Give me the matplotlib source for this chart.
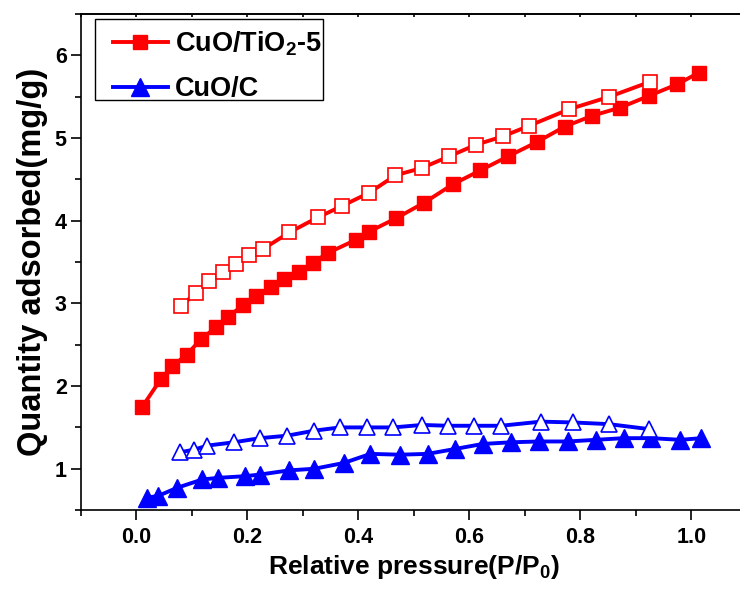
import numpy as np
import matplotlib
matplotlib.use("Agg")
import matplotlib.pyplot as plt
from matplotlib.patches import Rectangle
from matplotlib.ticker import MultipleLocator

# CuO/TiO2-5, adsorption branch (filled squares)
ti_ads_x = [0.011, 0.044, 0.065, 0.091, 0.117, 0.144, 0.165, 0.192, 0.216, 0.243,
            0.267, 0.294, 0.318, 0.345, 0.396, 0.420, 0.468, 0.519, 0.570, 0.620,
            0.670, 0.721, 0.772, 0.821, 0.872, 0.923, 0.974, 1.013]
ti_ads_y = [1.75, 2.08, 2.24, 2.38, 2.57, 2.71, 2.83, 2.98, 3.09, 3.20,
            3.29, 3.38, 3.49, 3.61, 3.77, 3.87, 4.03, 4.22, 4.44, 4.61,
            4.78, 4.95, 5.14, 5.27, 5.37, 5.51, 5.65, 5.79]

# CuO/TiO2-5, desorption branch (open squares)
ti_des_x = [0.081, 0.108, 0.131, 0.156, 0.179, 0.203, 0.229, 0.276, 0.327, 0.371,
            0.420, 0.467, 0.515, 0.564, 0.612, 0.660, 0.708, 0.780, 0.852, 0.925]
ti_des_y = [2.97, 3.13, 3.27, 3.38, 3.48, 3.58, 3.66, 3.86, 4.04, 4.18,
            4.34, 4.55, 4.64, 4.78, 4.92, 5.02, 5.15, 5.35, 5.50, 5.68]

# CuO/C, adsorption branch (filled triangles)
c_ads_x = [0.019, 0.039, 0.074, 0.119, 0.148, 0.196, 0.223, 0.275, 0.321, 0.374,
           0.422, 0.475, 0.525, 0.575, 0.624, 0.675, 0.726, 0.777, 0.828, 0.878,
           0.928, 0.980, 1.018]
c_ads_y = [0.65, 0.67, 0.77, 0.87, 0.89, 0.91, 0.93, 0.98, 1.00, 1.07,
           1.18, 1.17, 1.18, 1.24, 1.30, 1.32, 1.33, 1.33, 1.35, 1.37,
           1.37, 1.35, 1.37]

# CuO/C, desorption branch (open triangles)
c_des_x = [0.079, 0.104, 0.128, 0.176, 0.223, 0.272, 0.320, 0.367, 0.415, 0.463,
           0.515, 0.561, 0.609, 0.657, 0.729, 0.787, 0.851, 0.923]
c_des_y = [1.20, 1.23, 1.28, 1.32, 1.37, 1.40, 1.46, 1.50, 1.50, 1.50,
           1.53, 1.52, 1.52, 1.52, 1.57, 1.56, 1.54, 1.48]

plt.rcParams['font.family'] = ['Liberation Sans', 'DejaVu Sans']
plt.rcParams['font.weight'] = 'bold'
plt.rcParams['mathtext.fontset'] = 'custom'
plt.rcParams['mathtext.rm'] = 'Liberation Sans:bold'
plt.rcParams['mathtext.default'] = 'rm'

W, H = 740, 589
fig = plt.figure(figsize=(W / 100, H / 100), dpi=100)
ax = fig.add_axes([0.109, 0.134, 0.9004, 0.842])

red = '#ff0000'
blue = '#0000ff'

ax.plot(ti_ads_x, ti_ads_y, color=red, lw=2.8, marker='s', ms=10.5,
        mfc=red, mec=red, label='CuO/TiO$_2$-5', zorder=3)
ax.plot(ti_des_x, ti_des_y, color=red, lw=2.8, marker='s', ms=9.5,
        mfc='white', mec=red, mew=1.2, zorder=3)
ax.plot(c_ads_x, c_ads_y, color=blue, lw=2.8, marker='^', ms=13,
        mfc=blue, mec=blue, label='CuO/C', zorder=3)
ax.plot(c_des_x, c_des_y, color=blue, lw=2.8, marker='^', ms=12,
        mfc='white', mec=blue, mew=1.2, zorder=3)

ax.set_xlim(-0.1, 1.1)
ax.set_ylim(0.5, 6.5)
ax.xaxis.set_minor_locator(MultipleLocator(0.1))
ax.yaxis.set_minor_locator(MultipleLocator(0.5))
ax.set_xticks([0.0, 0.2, 0.4, 0.6, 0.8, 1.0])
ax.set_yticks([1, 2, 3, 4, 5, 6])

for s in ax.spines.values():
    s.set_linewidth(1.2)

ax.tick_params(which='major', direction='out', length=7, width=1.2,
               labelsize=15.5, top=False, right=False)
ax.tick_params(which='minor', direction='out', length=4, width=1.2,
               top=False, right=False)
ax.tick_params(axis='x', pad=5)
ax.tick_params(axis='y', pad=3)

# small inward ticks on the top edge
top = ax.secondary_xaxis('top')
top.xaxis.set_major_locator(MultipleLocator(0.2))
top.xaxis.set_minor_locator(MultipleLocator(0.1))
top.tick_params(which='both', direction='in', length=2.5, width=1.2,
                labeltop=False)
top.spines['top'].set_linewidth(1.2)

ax.set_xlabel('Relative pressure(P/P$_0$)', fontsize=19, fontweight='bold', labelpad=4)
ax.set_ylabel('Quantity adsorbed(mg/g)', fontsize=23.5, fontweight='bold', labelpad=5)

# legend entries without frame, frame drawn separately as in the original
leg = ax.legend(loc='upper left', bbox_to_anchor=(113 / W, 1 - 29.5 / H),
                bbox_transform=fig.transFigure, borderaxespad=0, borderpad=0,
                fontsize=19.5, frameon=False, handlelength=2.03,
                handletextpad=0.27, labelspacing=0.68)
fig.patches.append(Rectangle((95 / W, 1 - 100 / H), 228 / W, 81 / H,
                             transform=fig.transFigure, fill=False,
                             edgecolor='black', linewidth=1.0))

fig.savefig('out.png', dpi=100)
